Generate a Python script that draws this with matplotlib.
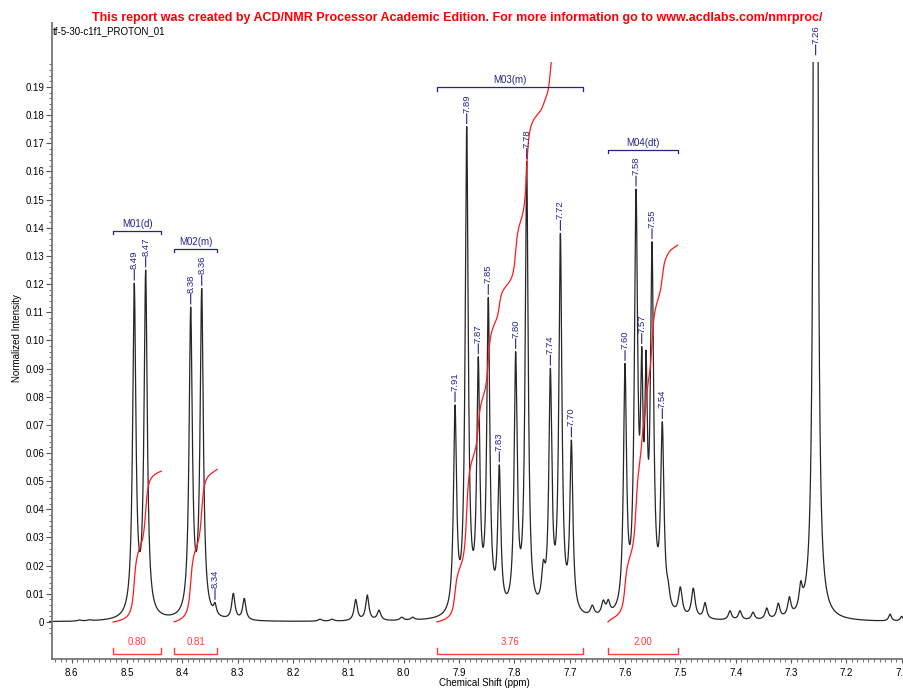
import numpy as np
import matplotlib
matplotlib.use("Agg")
import matplotlib.pyplot as plt
from matplotlib.patches import Rectangle
from matplotlib.ticker import FixedLocator, MultipleLocator, FuncFormatter

plt.rcParams['font.family'] = ['Liberation Sans', 'DejaVu Sans']

# ---------------- data ----------------
peak_ppm = [8.586, 8.568, 8.4869, 8.4663, 8.3849, 8.3650, 8.3410, 8.3079, 8.2881,
            8.1512, 8.1295, 8.0867, 8.0658, 8.0446, 8.0036, 7.9837,
            7.9072, 7.8861, 7.8652, 7.8471, 7.8272, 7.7976, 7.7777, 7.7476, 7.7349,
            7.7168, 7.6969, 7.6591, 7.6392, 7.6302,
            7.6000, 7.5801, 7.5698, 7.5620, 7.5512, 7.5326, 7.5220,
            7.5000, 7.4766, 7.4554, 7.4103, 7.3922, 7.3687, 7.3439, 7.3230, 7.3030,
            7.2825, 7.2555, 7.1210, 7.1000]
peak_height = [0.0007, 0.0008, 0.1203, 0.1250, 0.1118, 0.1185, 0.0069, 0.0102, 0.0084,
               0.0010, 0.0010, 0.0080, 0.0096, 0.0042, 0.0017, 0.0017,
               0.0771, 0.1759, 0.0942, 0.1153, 0.0558, 0.0960, 0.1635, 0.0220, 0.0901,
               0.1380, 0.0646, 0.0060, 0.0078, 0.0080,
               0.0918, 0.1537, 0.0978, 0.0966, 0.1350, 0.0711, 0.0148,
               0.0125, 0.0120, 0.0069, 0.0040, 0.0040, 0.0035, 0.0050, 0.0067, 0.0090,
               0.0146, 2.0000, 0.0028, 0.0020]
peak_hwhm = [0.004, 0.004, 0.0035, 0.0035, 0.0035, 0.0035, 0.0030, 0.0035, 0.0035,
             0.004, 0.004, 0.0035, 0.0035, 0.0040, 0.004, 0.004,
             0.0033, 0.0033, 0.0033, 0.0033, 0.0033, 0.0033, 0.0033, 0.0040, 0.0033,
             0.0033, 0.0033, 0.0040, 0.0040, 0.0035,
             0.0033, 0.0036, 0.0028, 0.0028, 0.0035, 0.0036, 0.0035,
             0.0040, 0.0040, 0.0035, 0.0035, 0.0035, 0.0035, 0.0035, 0.0035, 0.0035,
             0.0035, 0.0015, 0.0030, 0.0030]

label_ppm = [8.4869, 8.4663, 8.3849, 8.3650, 8.3410,
             7.9072, 7.8861, 7.8652, 7.8471, 7.8272, 7.7976, 7.7777, 7.7349, 7.7168, 7.6969,
             7.6000, 7.5801, 7.5698, 7.5512, 7.5326, 7.2555]
label_text = ['8.49', '8.47', '8.38', '8.36', '8.34',
              '7.91', '7.89', '7.87', '7.85', '7.83', '7.80', '7.78', '7.74', '7.72', '7.70',
              '7.60', '7.58', '7.57', '7.55', '7.54', '7.26']

mult_names = ['M01(d)', 'M02(m)', 'M03(m)', 'M04(dt)']
range_start = [8.525, 8.415, 7.940, 7.631]
range_end = [8.438, 8.337, 7.676, 7.505]
integral_values = [0.80, 0.81, 3.76, 2.00]

y_ticks = [0.00, 0.01, 0.02, 0.03, 0.04, 0.05, 0.06, 0.07, 0.08, 0.09, 0.10,
           0.11, 0.12, 0.13, 0.14, 0.15, 0.16, 0.17, 0.18, 0.19]

title = ("This report was created by ACD/NMR Processor Academic Edition. "
         "For more information go to www.acdlabs.com/nmrproc/")
sample_name = "tf-5-30-c1f1_PROTON_01"

# ---------------- spectrum from the peak table ----------------
pp = np.array(peak_ppm)
hh = np.array(peak_height)
ww = np.array(peak_hwhm)


def lor(x, c, w):
    return 1.0 / (1.0 + ((x - c) / w) ** 2)


M = lor(pp[:, None], pp[None, :], ww[None, :])
amps = np.clip(np.linalg.solve(M, hh), 0, None)

x = np.linspace(8.64, 7.09, 9000)
y = (amps[None, :] * lor(x[:, None], pp[None, :], ww[None, :])).sum(axis=1)

# ---------------- figure ----------------
navy = '#23238e'
red_int = '#ff1a1a'
red_lab = '#ff3b3b'
clip_top = 0.199
unit = 0.0669  # intensity units per integral unit

fig = plt.figure(figsize=(9.04, 6.90), dpi=100)
ax = fig.add_axes([0.0572, 0.0445, 0.9428, 0.9222])
ax.set_xlim(8.6361, 7.0958)
ax.set_ylim(-0.01325, 0.2127)

clip = Rectangle((7.0, -0.05), 2.0, clip_top + 0.05, transform=ax.transData,
                 facecolor='none', edgecolor='none')

line, = ax.plot(x, y, color='#262626', lw=0.9)
line.set_clip_path(clip)

# integral curves, brackets and values
for s, e, v, name in zip(range_start, range_end, integral_values, mult_names):
    m = (x <= s) & (x >= e)
    cs = np.cumsum(y[m])
    cs = cs / cs[-1] * v * unit
    il, = ax.plot(x[m], cs, color=red_int, lw=0.9)
    il.set_clip_path(clip)
    # integration bracket under the baseline
    yb, yt = -0.01136, -0.0093
    ax.plot([s, s, e, e], [yt, yb, yb, yt], color=red_lab, lw=1.0, clip_on=False)
    ax.text((s + e) / 2, -0.0072, f'{v:.2f}', color=red_lab, fontsize=7,
            ha='center', va='center')
    # multiplet bracket above the peaks
    top = y[m].max() + 0.0140
    ax.plot([s, s, e, e], [top - 0.0012, top, top, top - 0.0012], color=navy, lw=0.9)
    ax.text((s + e) / 2, top + 0.0006, name, color=navy, fontsize=7,
            ha='center', va='bottom')

# peak labels
for p, t in zip(label_ppm, label_text):
    i = np.argmin(np.abs(x - p))
    h = min(y[max(i - 3, 0):i + 4].max(), clip_top + 0.0013)
    ax.annotate('', xy=(p, h), xytext=(0, 13), textcoords='offset pixels',
                arrowprops=dict(arrowstyle='-', color=navy, lw=0.8,
                                shrinkA=0, shrinkB=2.2))
    ax.annotate(t, xy=(p, h), xytext=(0, 14), textcoords='offset pixels',
                rotation=90, ha='center', va='bottom', fontsize=6.8, color=navy)

# axes styling
for sp in ['top', 'right']:
    ax.spines[sp].set_visible(False)
for sp in ['left', 'bottom']:
    ax.spines[sp].set_color('#767676')
    ax.spines[sp].set_linewidth(1.3)

ax.yaxis.set_major_locator(FixedLocator(y_ticks))
ax.yaxis.set_minor_locator(FixedLocator(np.arange(-0.004, 0.1986, 0.002)))
ax.yaxis.set_major_formatter(FuncFormatter(lambda v, _: '0' if abs(v) < 1e-9 else f'{v:.2f}'))
ax.xaxis.set_major_locator(MultipleLocator(0.1))
ax.xaxis.set_minor_locator(MultipleLocator(0.01))
ax.xaxis.set_major_formatter(FuncFormatter(lambda v, _: f'{v:.1f}'))

ax.tick_params(axis='y', which='major', direction='out', length=4.0, width=0.8,
               color='#555555', labelsize=7, pad=1.5)
ax.tick_params(axis='y', which='minor', direction='out', length=2.0, width=0.6,
               color='#555555')
ax.tick_params(axis='x', which='major', direction='out', length=3.2, width=0.8,
               color='#555555', labelsize=7, pad=3)
ax.tick_params(axis='x', which='minor', direction='out', length=2.2, width=0.6,
               color='#555555')

fig.text(457 / 904, 1 - 20.7 / 690, title, ha='center', va='baseline', color='#ff0000',
         fontsize=9, fontweight='bold')
fig.text(53.3 / 904, 1 - 34.3 / 690, sample_name, ha='left', va='baseline', fontsize=7)
fig.text(17 / 904, 1 - 338.5 / 690, 'Normalized Intensity', rotation=90,
         ha='center', va='center', fontsize=7)
fig.text(484 / 904, 1 - 683 / 690, 'Chemical Shift (ppm)', ha='center', va='center',
         fontsize=7)

fig.savefig('out.png', dpi=100)
